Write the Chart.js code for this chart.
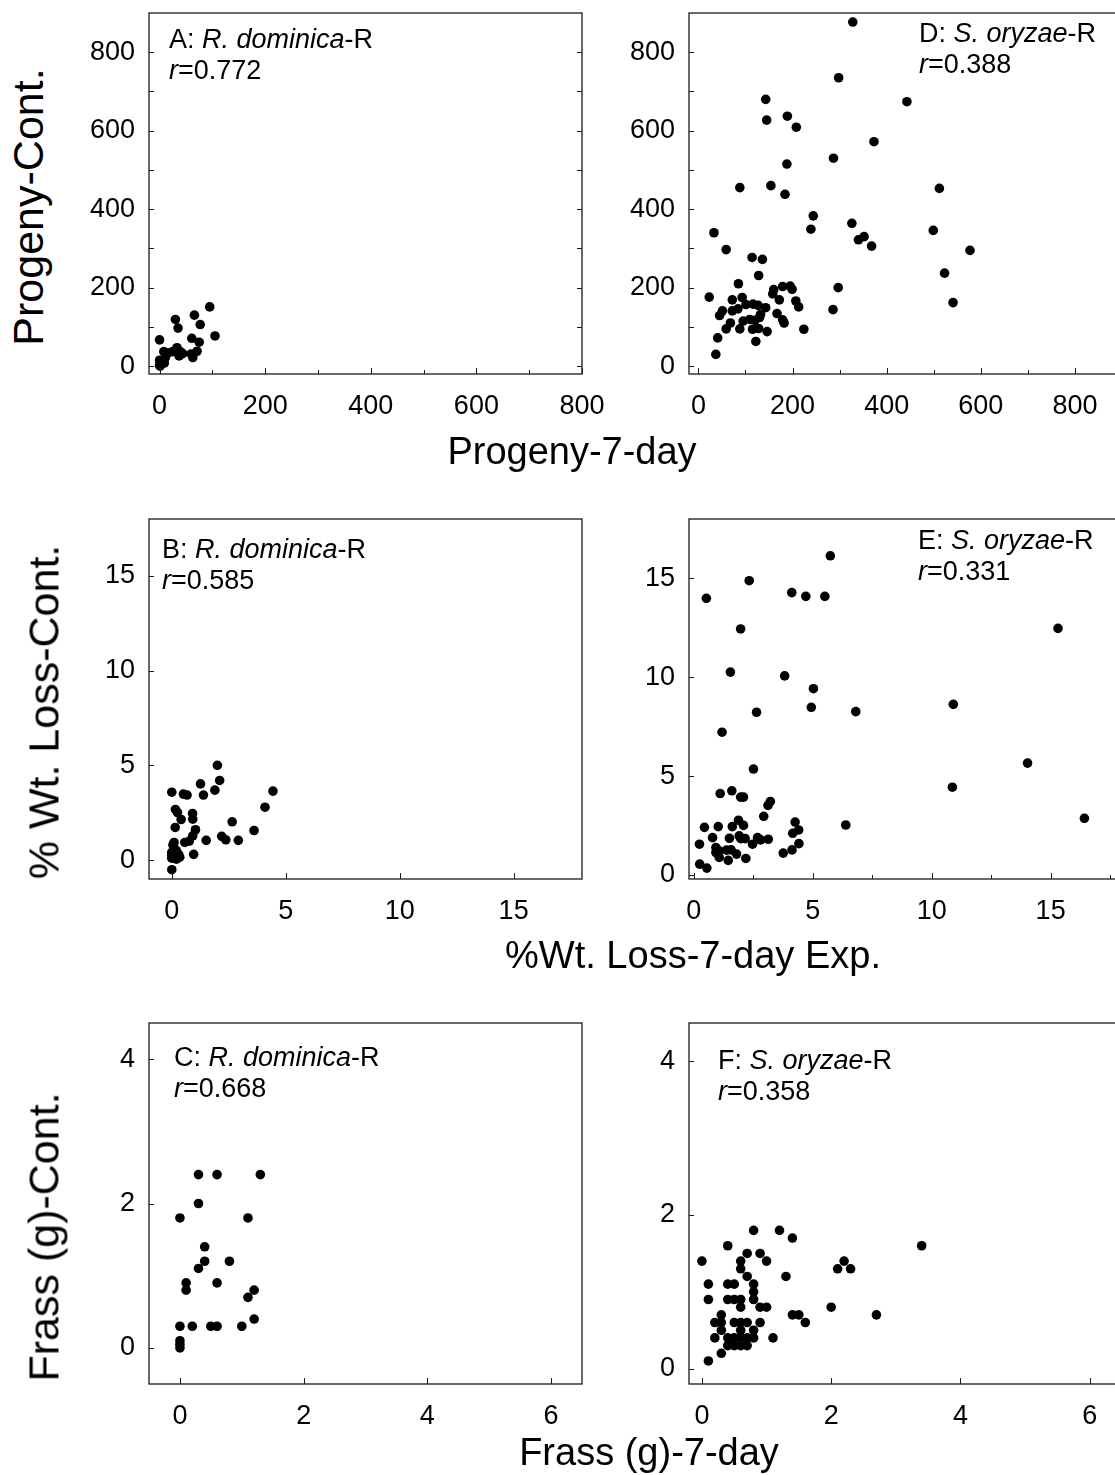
<!DOCTYPE html>
<html>
<head>
<meta charset="utf-8">
<script src="https://cdn.jsdelivr.net/npm/chart.js@4.4.1/dist/chart.umd.min.js"></script>
<style>
html, body { margin: 0; padding: 0; background: #fff; overflow: hidden; width: 1115px; height: 1475px; }
body { position: relative; font-family: Arial, "Liberation Sans", sans-serif; color: #000; }
canvas { position: absolute; }
.note { position: absolute; font-size: 27px; line-height: 31px; white-space: nowrap; }
.xt { position: absolute; font-size: 38px; line-height: 38px; white-space: nowrap; transform: translateX(-50%); }
.yt { position: absolute; font-size: 43px; line-height: 43px; white-space: nowrap; transform: translate(-50%, -50%) rotate(-90deg); }
</style>
</head>
<body>

<canvas id="pA" width="553" height="431"></canvas>
<canvas id="pD" width="553" height="431"></canvas>
<canvas id="pB" width="553" height="430"></canvas>
<canvas id="pE" width="553" height="430"></canvas>
<canvas id="pC" width="553" height="431"></canvas>
<canvas id="pF" width="553" height="431"></canvas>

<div class="note" style="left:169px;top:24px">A: <i>R. dominica</i>-R<br><i>r</i>=0.772</div>
<div class="note" style="left:919px;top:18px">D: <i>S. oryzae</i>-R<br><i>r</i>=0.388</div>
<div class="note" style="left:162px;top:534px">B: <i>R. dominica</i>-R<br><i>r</i>=0.585</div>
<div class="note" style="left:918px;top:525px">E: <i>S. oryzae</i>-R<br><i>r</i>=0.331</div>
<div class="note" style="left:174px;top:1042px">C: <i>R. dominica</i>-R<br><i>r</i>=0.668</div>
<div class="note" style="left:718px;top:1045px">F: <i>S. oryzae</i>-R<br><i>r</i>=0.358</div>

<div class="xt" style="left:572px;top:432px">Progeny-7-day</div>
<div class="xt" style="left:693px;top:936px">%Wt. Loss-7-day Exp.</div>
<div class="xt" style="left:649px;top:1433px">Frass (g)-7-day</div>

<div class="yt" style="left:28px;top:207px">Progeny-Cont.</div>
<div class="yt" style="left:44px;top:712px">% Wt. Loss-Cont.</div>
<div class="yt" style="left:44px;top:1237px">Frass (g)-Cont.</div>

<script>
// A: R. dominica progeny
const aX = [95, 66, 30, 77, 35, 105, 0, 61, 75, 33, 8, 16, 25, 39, 44, 37, 60, 71, 63, 11, 6, 0, 0, 1, 9];
const aY = [151, 130, 119, 106, 97, 77, 67, 71, 61, 47, 37, 34, 37, 37, 32, 26, 31, 38, 22, 22, 11, 15, 3, 0, 8];

// D: S. oryzae progeny
const dX = [328, 298, 143, 443, 145, 189, 208, 373, 287, 188, 88, 154, 184, 512, 244, 239, 326, 499, 33, 340,
            352, 368, 577, 59, 114, 136, 523, 128, 85, 297, 541, 23, 160, 179, 195, 199, 158, 172, 207, 213,
            72, 93, 72, 84, 51, 45, 101, 116, 127, 143, 132, 130, 120, 109, 95, 167, 179, 182, 68, 59,
            88, 115, 128, 146, 224, 286, 41, 122, 37];
const dY = [877, 735, 680, 674, 627, 637, 609, 572, 530, 515, 455, 460, 438, 453, 383, 349, 364, 346, 340, 322,
            330, 306, 295, 297, 277, 272, 237, 231, 210, 200, 162, 176, 195, 203, 204, 196, 184, 169, 166, 151,
            169, 175, 141, 146, 141, 129, 157, 158, 155, 149, 132, 124, 117, 119, 115, 134, 118, 110, 110, 95,
            95, 94, 96, 88, 94, 144, 72, 63, 30];

// B: R. dominica % weight loss
const bX = [2.0, 2.1, 1.26, 1.89, 1.39, 4.44, 0, 0.51, 0.67, 4.09, 0.16, 0.25, 0.91, 0.41, 0.92, 2.65, 0.15, 1.04,
            3.61, 2.19, 2.37, 2.92, 1.51, 0.92, 0.77, 0.57, 0.1, 0.96, 0,
            0, 0.1, 0.2, 0.3, 0, 0.1, 0.2, 0.35, 0.05, 0.15, 0.25, 0];
const bY = [5.0, 4.2, 4.02, 3.69, 3.43, 3.64, 3.58, 3.48, 3.43, 2.79, 2.67, 2.51, 2.46, 2.14, 2.16, 2.02, 1.72, 1.6,
            1.56, 1.25, 1.07, 1.04, 1.04, 1.28, 1.0, 0.93, 0.93, 0.3, -0.51,
            0.1, 0.2, 0.05, 0.3, 0.4, 0.6, 0.5, 0.15, 0.8, 0.3, 0.1, 0.25];

// E: S. oryzae % weight loss
const eX = [5.74, 2.33, 0.53, 4.12, 4.71, 5.51, 1.97, 15.31, 1.54, 3.82, 5.03, 4.94, 2.64, 6.81, 10.91, 1.19, 2.51,
            14.03, 10.87, 1.11, 1.6, 1.97, 2.09, 3.22, 3.12, 2.94, 4.26, 1.88, 6.39, 16.42, 0.45, 1.03, 1.62,
            2.09, 4.41, 4.16, 0.79, 1.5, 1.91, 1.98, 2.16, 2.68, 2.81, 3.13, 0.24, 0.93, 1.07, 0.93, 1.38,
            1.57, 1.8, 2.47, 3.76, 4.13, 4.42, 1.07, 1.45, 2.19, 0.25, 0.55];
const eY = [16.14, 14.88, 13.99, 14.28, 14.09, 14.09, 12.44, 12.47, 10.26, 10.07, 9.42, 8.48, 8.23, 8.26, 8.63, 7.22, 5.36,
            5.66, 4.44, 4.12, 4.26, 3.94, 3.94, 3.72, 3.52, 2.97, 2.68, 2.77, 2.53, 2.87, 2.41, 2.45, 2.45,
            2.51, 2.28, 2.11, 1.89, 1.86, 1.98, 1.84, 1.84, 1.89, 1.78, 1.81, 1.56, 1.39, 1.22, 1.14, 1.26,
            1.27, 1.06, 1.56, 1.11, 1.27, 1.59, 0.89, 0.74, 0.84, 0.55, 0.35];

// C: R. dominica frass
const cX = [0.3, 0.6, 1.3, 0.3, 0, 1.1, 0.4, 0.4, 0.8, 0.3, 0.1, 0.1, 0.6, 1.2, 1.1, 1.2, 0, 0.2, 0.5, 0.6, 1.0, 0, 0, 0];
const cY = [2.4, 2.4, 2.4, 2.0, 1.8, 1.8, 1.4, 1.2, 1.2, 1.1, 0.9, 0.8, 0.9, 0.8, 0.7, 0.4, 0.3, 0.3, 0.3, 0.3, 0.3, 0.1, 0.05, 0];

// F: S. oryzae frass
const fX = [0.8, 1.2, 1.4, 0.4, 3.4, 0.7, 0.9, 0, 0.6, 1.0, 2.2, 0.6, 2.1, 2.3, 0.7, 1.3, 0.1, 0.4, 0.5, 0.8,
            0.8, 0.1, 0.4, 0.5, 0.6, 0.8, 0.6, 0.9, 1.0, 2.0, 0.3, 1.4, 1.5, 2.7, 0.2, 0.3, 0.5, 0.6, 0.7, 0.9,
            1.6, 0.3, 0.6, 0.8, 0.2, 0.4, 0.5, 0.6, 0.7, 0.8, 1.1, 0.4, 0.5, 0.6, 0.7, 0.3, 0.1];
const fY = [1.8, 1.8, 1.7, 1.6, 1.6, 1.5, 1.5, 1.4, 1.4, 1.4, 1.4, 1.3, 1.3, 1.3, 1.2, 1.2, 1.1, 1.1, 1.1, 1.1,
            1.0, 0.9, 0.9, 0.9, 0.9, 0.9, 0.8, 0.8, 0.8, 0.8, 0.7, 0.7, 0.7, 0.7, 0.6, 0.6, 0.6, 0.6, 0.6, 0.6,
            0.6, 0.5, 0.5, 0.5, 0.4, 0.4, 0.4, 0.4, 0.4, 0.4, 0.4, 0.3, 0.3, 0.3, 0.3, 0.2, 0.1];

// tick values (all drawn as marks) and the ones that get a label
const progTicks = [0, 100, 200, 300, 400, 500, 600, 700, 800];
const progLabels = [0, 200, 400, 600, 800];
const lossTicksB = [0, 5, 10, 15];
const lossTicksE = [0, 2.5, 5, 7.5, 10, 12.5, 15, 17.5];
const lossLabels = [0, 5, 10, 15];
const frassXTicks = [0, 2, 4, 6];
const frassYTicks = [0, 2, 4];

// layout of the plot boxes
const LEFT_PAD = 90, TOP_PAD = 10, BOTTOM_PAD = 60, RIGHT_PAD = 30;
const colLeft = [149, 689];
const rowBox = [[13, 361], [519, 360], [1023, 361]];
const FONT = 'Arial, "Liberation Sans", sans-serif';

const frame = {
    id: 'frame',
    afterDraw(chart) {
        const { ctx, chartArea: a, scales } = chart;
        ctx.save();
        ctx.strokeStyle = '#1a1a1a';
        ctx.lineWidth = 1.3;
        ctx.strokeRect(a.left, a.top, a.right - a.left, a.bottom - a.top);
        ctx.lineWidth = 1;
        scales.x.ticks.forEach(t => {
            const px = Math.round(scales.x.getPixelForValue(t.value)) + 0.5;
            const len = t.label ? 6 : 4;
            ctx.beginPath();
            ctx.moveTo(px, a.bottom);
            ctx.lineTo(px, a.bottom - len);
            ctx.stroke();
        });
        scales.y.ticks.forEach(t => {
            const py = Math.round(scales.y.getPixelForValue(t.value)) + 0.5;
            ctx.beginPath();
            ctx.moveTo(a.left, py);
            ctx.lineTo(a.left + 5, py);
            ctx.stroke();
            if (chart.options.plugins.frame.rightTicks) {
                ctx.beginPath();
                ctx.moveTo(a.right, py);
                ctx.lineTo(a.right - 5, py);
                ctx.stroke();
            }
        });
        ctx.restore();
    }
};

function noOverhang(s) {
    s.paddingLeft = 0;
    s.paddingRight = 0;
    s.paddingTop = 0;
    s.paddingBottom = 0;
}

function panel(id, col, row, xs, ys, xRange, yRange, xTicks, xLabels, yTicks, yLabels, rightTicks) {
    const cv = document.getElementById(id);
    cv.style.left = (colLeft[col] - LEFT_PAD) + 'px';
    cv.style.top = (rowBox[row][0] - TOP_PAD) + 'px';

    const pts = xs.map((x, i) => ({ x: x, y: ys[i] }));

    new Chart(cv, {
        type: 'scatter',
        data: {
            datasets: [{
                data: pts,
                backgroundColor: '#000',
                borderWidth: 0,
                pointRadius: 4.8,
                pointHoverRadius: 4.8
            }]
        },
        options: {
            responsive: false,
            animation: false,
            events: [],
            layout: { padding: { top: TOP_PAD, right: RIGHT_PAD, left: 0, bottom: 0 } },
            plugins: {
                legend: { display: false },
                tooltip: { enabled: false },
                frame: { rightTicks: rightTicks }
            },
            scales: {
                x: {
                    type: 'linear',
                    min: xRange[0],
                    max: xRange[1],
                    grid: { display: false, drawTicks: false },
                    border: { display: false },
                    afterBuildTicks: s => { s.ticks = xTicks.map(v => ({ value: v })); },
                    afterFit: s => { s.height = BOTTOM_PAD; noOverhang(s); },
                    ticks: {
                        padding: 16,
                        color: '#000',
                        autoSkip: false,
                        maxRotation: 0,
                        font: { family: FONT, size: 27 },
                        callback: v => xLabels.includes(v) ? String(v) : ''
                    }
                },
                y: {
                    type: 'linear',
                    min: yRange[0],
                    max: yRange[1],
                    grid: { display: false, drawTicks: false },
                    border: { display: false },
                    afterBuildTicks: s => { s.ticks = yTicks.map(v => ({ value: v })); },
                    afterFit: s => { s.width = LEFT_PAD; noOverhang(s); },
                    ticks: {
                        padding: 14,
                        color: '#000',
                        autoSkip: false,
                        font: { family: FONT, size: 27 },
                        callback: v => yLabels.includes(v) ? String(v) : ''
                    }
                }
            }
        },
        plugins: [frame]
    });
}

panel('pA', 0, 0, aX, aY, [-20, 800], [-20, 900], progTicks, progLabels, progTicks, progLabels, true);
panel('pD', 1, 0, dX, dY, [-20, 900], [-20, 900], progTicks, progLabels, progTicks, progLabels, true);
panel('pB', 0, 1, bX, bY, [-1, 18], [-1, 18], lossTicksB, lossLabels, lossTicksB, lossLabels, false);
panel('pE', 1, 1, eX, eY, [-0.2, 18], [-0.2, 18], lossTicksE, lossLabels, lossLabels, lossLabels, false);
panel('pC', 0, 2, cX, cY, [-0.5, 6.5], [-0.5, 4.5], frassXTicks, frassXTicks, frassYTicks, frassYTicks, false);
panel('pF', 1, 2, fX, fY, [-0.2, 6.5], [-0.2, 4.5], frassXTicks, frassXTicks, frassYTicks, frassYTicks, false);
</script>
</body>
</html>
